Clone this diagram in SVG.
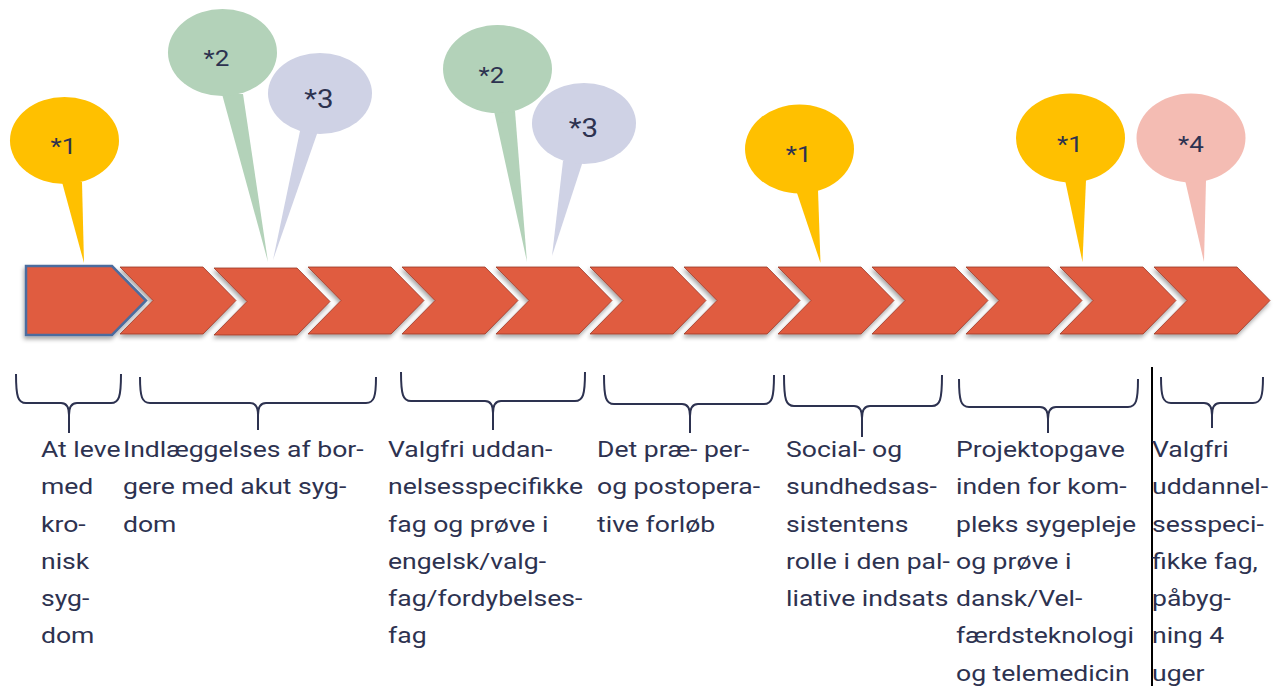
<svg xmlns="http://www.w3.org/2000/svg" xmlns:xlink="http://www.w3.org/1999/xlink" width="1282" height="686" viewBox="0 0 1282 686">
<style>
.lbl{font-family:Roboto,"Liberation Sans",sans-serif;font-size:22.5px;fill:#2D3250}
.star{font-family:Roboto,"Liberation Sans",sans-serif;font-size:22px;fill:#2D3250;text-anchor:middle}
.big{font-size:25px}
.chev{fill:#E05B40;stroke:#9A3A28;stroke-width:0.8}
.brace{fill:none;stroke:#2D3250;stroke-width:2;stroke-linejoin:round}
.yel{fill:#FFC000}.grn{fill:#B3D2B9}.lav{fill:#CFD2E5}.pnk{fill:#F4BCB3}
</style>
<defs>
<filter id="sh" x="-10%" y="-20%" width="130%" height="150%">
<feDropShadow dx="-1" dy="3" stdDeviation="2" flood-color="#000" flood-opacity="0.35"/>
</filter>
<path id="chev" d="M0,0 L83,0 L116,33.5 L83,67 L0,67 L33,33.5 Z"/>
</defs>
<rect width="1282" height="686" fill="#fff"/>

<g id="timeline" filter="url(#sh)">
<path id="step0" d="M26,266 L112,266 L146,300.5 L112,335 L26,335 Z" fill="#E05B40" stroke="#4C6C9E" stroke-width="2.5"/>
<use id="step1" xlink:href="#chev" class="chev" x="120" y="267"/>
<use id="step2" xlink:href="#chev" class="chev" x="214" y="268"/>
<use id="step3" xlink:href="#chev" class="chev" x="308" y="267"/>
<use id="step4" xlink:href="#chev" class="chev" x="402" y="267"/>
<use id="step5" xlink:href="#chev" class="chev" x="496" y="267"/>
<use id="step6" xlink:href="#chev" class="chev" x="590" y="267"/>
<use id="step7" xlink:href="#chev" class="chev" x="684" y="267"/>
<use id="step8" xlink:href="#chev" class="chev" x="778" y="267"/>
<use id="step9" xlink:href="#chev" class="chev" x="872" y="267"/>
<use id="step10" xlink:href="#chev" class="chev" x="966" y="267"/>
<use id="step11" xlink:href="#chev" class="chev" x="1060" y="267"/>
<use id="step12" xlink:href="#chev" class="chev" x="1154" y="267"/>
</g>

<g id="callout-y1" class="yel">
<polygon points="62,182 82,182 84,263"/>
<ellipse cx="64.5" cy="140.5" rx="54.5" ry="43.5"/>
<text class="star" transform="translate(63.5 154) scale(1.18 1)">*1</text>
</g>
<g id="callout-g1" class="grn">
<polygon points="222,94 243,94 268,262"/>
<ellipse cx="222.5" cy="52.5" rx="54.5" ry="43.5"/>
<text class="star" transform="translate(216.5 66) scale(1.18 1)">*2</text>
</g>
<g id="callout-l1" class="lav">
<polygon points="300,131 318,131 273,260"/>
<ellipse cx="320" cy="93.5" rx="52" ry="40.5"/>
<text class="star big" transform="translate(319 108) scale(1.18 1)">*3</text>
</g>
<g id="callout-g2" class="grn">
<polygon points="494,111 515,111 527,262"/>
<ellipse cx="497.5" cy="69" rx="54.5" ry="44"/>
<text class="star" transform="translate(491.5 83) scale(1.18 1)">*2</text>
</g>
<g id="callout-l2" class="lav">
<polygon points="563,161 583,161 552,256"/>
<ellipse cx="584" cy="123.5" rx="52" ry="40.5"/>
<text class="star big" transform="translate(583.5 137) scale(1.18 1)">*3</text>
</g>
<g id="callout-y3" class="yel">
<polygon points="796,190 818,190 820.5,263"/>
<ellipse cx="799.5" cy="149" rx="54.5" ry="44.5"/>
<text class="star" transform="translate(798.7 162) scale(1.18 1)">*1</text>
</g>
<g id="callout-y4" class="yel">
<polygon points="1065,180 1086,180 1082.5,262"/>
<ellipse cx="1070.5" cy="138" rx="54.5" ry="44.5"/>
<text class="star" transform="translate(1070 152) scale(1.18 1)">*1</text>
</g>
<g id="callout-p4" class="pnk">
<polygon points="1185,180 1206,180 1204,262"/>
<ellipse cx="1191" cy="138" rx="54.5" ry="44.5"/>
<text class="star" transform="translate(1191 152) scale(1.18 1)">*4</text>
</g>

<g id="braces" class="brace">
<path d="M16,374 C16,397 18,403 26,403 L61,403 Q69,403 69,415 L69,433 M69,415 Q69,403 77,403 L111,403 C119,403 121,397 121,374"/>
<path d="M140,377 C140,397 142,403 150,403 L250,403 Q258,403 258,415 L258,430 M258,415 Q258,403 266,403 L366,403 C374,403 376,397 376,377"/>
<path d="M401,372 C401,395 403,401 411,401 L485,401 Q493,401 493,413 L493,430 M493,413 Q493,401 501,401 L575,401 C583,401 585,395 585,372"/>
<path d="M604,375 C604,398 606,404 614,404 L682,404 Q690,404 690,416 L690,433 M690,416 Q690,404 698,404 L764,404 C772,404 774,398 774,375"/>
<path d="M784,375 C784,400 786,406 794,406 L854,406 Q862,406 862,418 L862,437 M862,418 Q862,406 870,406 L932,406 C940,406 942,400 942,375"/>
<path d="M959,379 C959,401 961,407 969,407 L1040,407 Q1048,407 1048,419 L1048,433 M1048,419 Q1048,407 1056,407 L1128,407 C1136,407 1138,401 1138,379"/>
<path d="M1161,377 C1161,397 1163,403 1171,403 L1204,403 Q1212,403 1212,415 L1212,428 M1212,415 Q1212,403 1220,403 L1253,403 C1261,403 1263,397 1263,377"/>
</g>
<line id="separator" x1="1152" y1="367" x2="1152" y2="686" stroke="#000" stroke-width="2"/>

<g id="label1"><text class="lbl" transform="translate(41 457) scale(1.18 1)"><tspan x="0" y="0">At leve</tspan><tspan x="0" y="37.3">med</tspan><tspan x="0" y="74.6">kro-</tspan><tspan x="0" y="111.9">nisk</tspan><tspan x="0" y="149.2">syg-</tspan><tspan x="0" y="186.5">dom</tspan></text></g>
<g id="label2"><text class="lbl" transform="translate(123 457) scale(1.18 1)"><tspan x="0" y="0">Indlæggelses af bor-</tspan><tspan x="0" y="37.3">gere med akut syg-</tspan><tspan x="0" y="74.6">dom</tspan></text></g>
<g id="label3"><text class="lbl" transform="translate(388 457) scale(1.18 1)"><tspan x="0" y="0">Valgfri uddan-</tspan><tspan x="0" y="37.3">nelsesspecifikke</tspan><tspan x="0" y="74.6">fag og prøve i</tspan><tspan x="0" y="111.9">engelsk/valg-</tspan><tspan x="0" y="149.2">fag/fordybelses-</tspan><tspan x="0" y="186.5">fag</tspan></text></g>
<g id="label4"><text class="lbl" transform="translate(597 457) scale(1.18 1)"><tspan x="0" y="0">Det præ- per-</tspan><tspan x="0" y="37.3">og postopera-</tspan><tspan x="0" y="74.6">tive forløb</tspan></text></g>
<g id="label5"><text class="lbl" transform="translate(786 457) scale(1.18 1)"><tspan x="0" y="0">Social- og</tspan><tspan x="0" y="37.3">sundhedsas-</tspan><tspan x="0" y="74.6">sistentens</tspan><tspan x="0" y="111.9">rolle i den pal-</tspan><tspan x="0" y="149.2">liative indsats</tspan></text></g>
<g id="label6"><text class="lbl" transform="translate(956 457) scale(1.18 1)"><tspan x="0" y="0">Projektopgave</tspan><tspan x="0" y="37.3">inden for kom-</tspan><tspan x="0" y="74.6">pleks sygepleje</tspan><tspan x="0" y="111.9">og prøve i</tspan><tspan x="0" y="149.2">dansk/Vel-</tspan><tspan x="0" y="186.5">færdsteknologi</tspan><tspan x="0" y="223.8">og telemedicin</tspan></text></g>
<g id="label7"><text class="lbl" transform="translate(1152 457) scale(1.18 1)"><tspan x="0" y="0">Valgfri</tspan><tspan x="0" y="37.3">uddannel-</tspan><tspan x="0" y="74.6">sesspeci-</tspan><tspan x="0" y="111.9">fikke fag,</tspan><tspan x="0" y="149.2">påbyg-</tspan><tspan x="0" y="186.5">ning 4</tspan><tspan x="0" y="223.8">uger</tspan></text></g>
</svg>
